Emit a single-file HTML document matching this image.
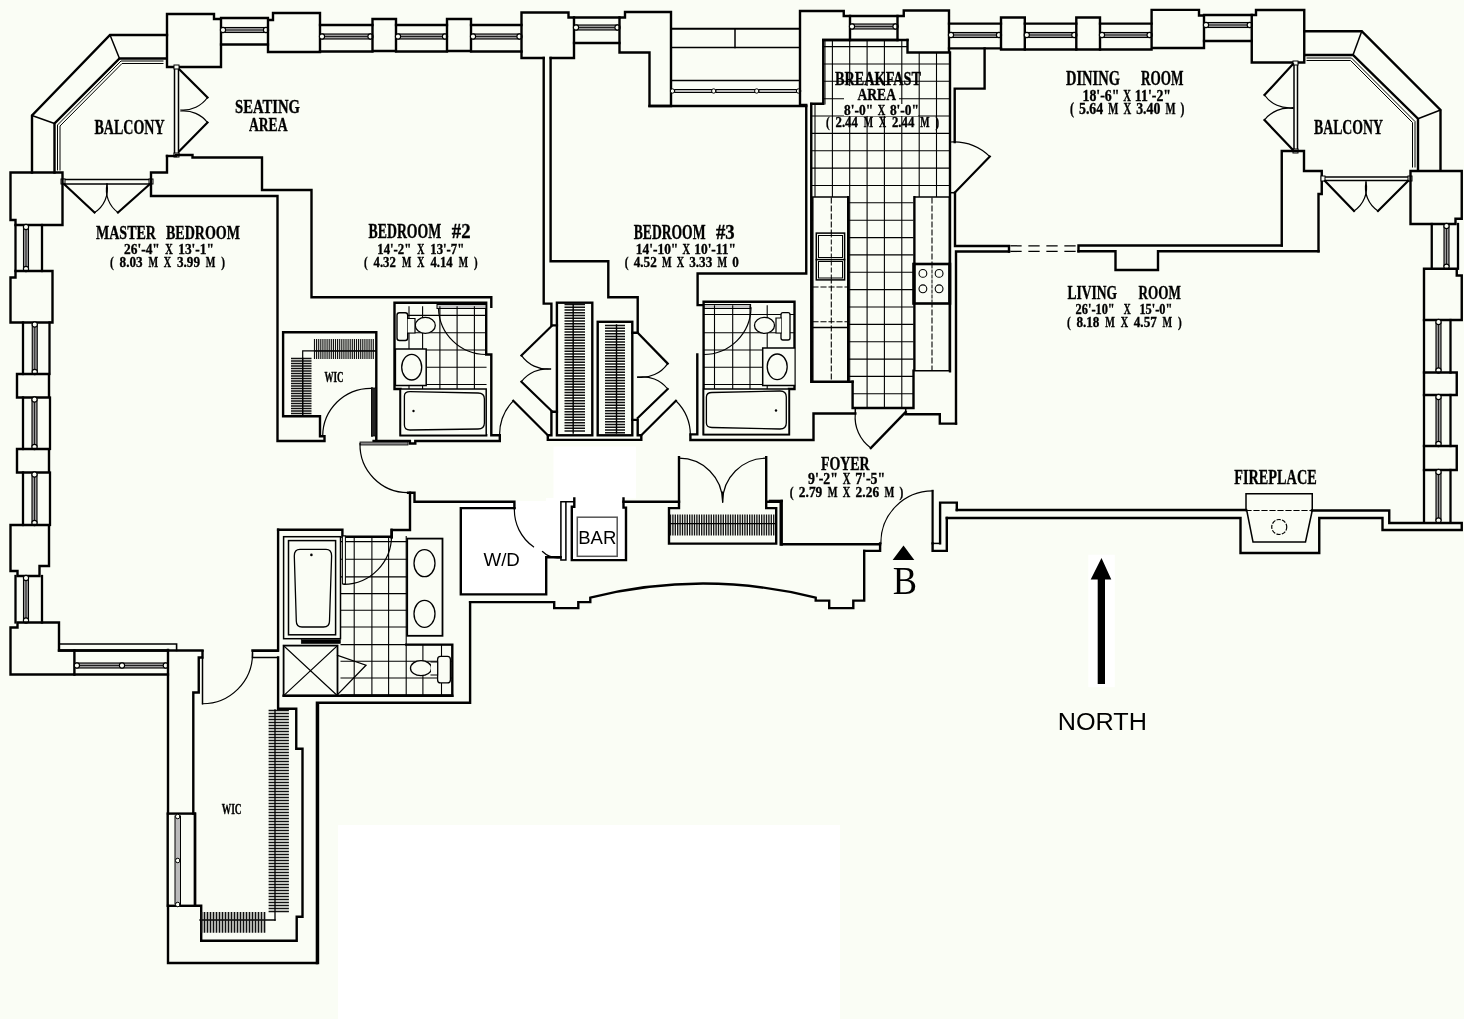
<!DOCTYPE html>
<html><head><meta charset="utf-8"><title>Floor Plan</title>
<style>html,body{margin:0;padding:0;background:#fafdf5;overflow:hidden}svg{display:block;will-change:transform}</style>
</head><body>
<svg width="1464" height="1019" viewBox="0 0 1464 1019" stroke="#000" stroke-linecap="square" stroke-linejoin="miter"><rect x="0" y="0" width="1464" height="1019" fill="#fafdf5" stroke="none"/>
<rect x="338" y="825" width="502" height="194" fill="#fff" stroke="none"/>
<rect x="553.5" y="446.5" width="82.5" height="52" fill="#fff" stroke="none"/>
<rect x="546" y="498" width="80" height="62" fill="#fff" stroke="none"/>
<rect x="461" y="501" width="99" height="56" fill="#fff" stroke="none"/>
<rect x="461" y="557" width="85" height="37" fill="#fff" stroke="none"/>
<rect x="1088.3" y="554.7" width="26.5" height="132.5" fill="#fff" stroke="none"/>
<path d="M167,14H214V19H221V67H167Z" stroke-width="2.4" fill="none" />
<line x1="221" y1="18" x2="268" y2="18" stroke-width="2.3" />
<line x1="221" y1="44.5" x2="268" y2="44.5" stroke-width="2.3" />
<rect x="223" y="27.5" width="43" height="5" stroke-width="1.1" fill="#9a9a9a" />
<line x1="223" y1="30" x2="266" y2="30" stroke-width="0.8" />
<circle cx="223" cy="30" r="2.6" stroke-width="1.1" fill="#fafdf5"/>
<circle cx="266" cy="30" r="2.6" stroke-width="1.1" fill="#fafdf5"/>
<path d="M268,20H273V13H320V52H268Z" stroke-width="2.4" fill="none" />
<line x1="320" y1="25" x2="372.5" y2="25" stroke-width="2.3" />
<line x1="320" y1="51.5" x2="372.5" y2="51.5" stroke-width="2.3" />
<rect x="322" y="34.0" width="48.5" height="5" stroke-width="1.1" fill="#9a9a9a" />
<line x1="322" y1="36.5" x2="370.5" y2="36.5" stroke-width="0.8" />
<circle cx="322" cy="36.5" r="2.6" stroke-width="1.1" fill="#fafdf5"/>
<circle cx="370.5" cy="36.5" r="2.6" stroke-width="1.1" fill="#fafdf5"/>
<path d="M372.5,19H396V51H372.5Z" stroke-width="2.4" fill="none" />
<line x1="396" y1="25" x2="447" y2="25" stroke-width="2.3" />
<line x1="396" y1="51.5" x2="447" y2="51.5" stroke-width="2.3" />
<rect x="398" y="34.0" width="47" height="5" stroke-width="1.1" fill="#9a9a9a" />
<line x1="398" y1="36.5" x2="445" y2="36.5" stroke-width="0.8" />
<circle cx="398" cy="36.5" r="2.6" stroke-width="1.1" fill="#fafdf5"/>
<circle cx="445" cy="36.5" r="2.6" stroke-width="1.1" fill="#fafdf5"/>
<path d="M447,19H471V51H447Z" stroke-width="2.4" fill="none" />
<line x1="471" y1="25" x2="521.5" y2="25" stroke-width="2.3" />
<line x1="471" y1="51.5" x2="521.5" y2="51.5" stroke-width="2.3" />
<rect x="473" y="34.0" width="46.5" height="5" stroke-width="1.1" fill="#9a9a9a" />
<line x1="473" y1="36.5" x2="519.5" y2="36.5" stroke-width="0.8" />
<circle cx="473" cy="36.5" r="2.6" stroke-width="1.1" fill="#fafdf5"/>
<circle cx="519.5" cy="36.5" r="2.6" stroke-width="1.1" fill="#fafdf5"/>
<path d="M521.5,58V12.5H568.5V17.5H574V58H550.7M543.7,58H521.5" stroke-width="2.4" fill="none" />
<line x1="574" y1="17.5" x2="619.5" y2="17.5" stroke-width="2.3" />
<line x1="574" y1="43" x2="619.5" y2="43" stroke-width="2.3" />
<rect x="576" y="25.0" width="41.5" height="5" stroke-width="1.1" fill="#9a9a9a" />
<line x1="576" y1="27.5" x2="617.5" y2="27.5" stroke-width="0.8" />
<circle cx="576" cy="27.5" r="2.6" stroke-width="1.1" fill="#fafdf5"/>
<circle cx="617.5" cy="27.5" r="2.6" stroke-width="1.1" fill="#fafdf5"/>
<path d="M619.5,17.5H625V12H671V106H649.5V52.5H619.5Z" stroke-width="2.4" fill="none" />
<line x1="671" y1="28.75" x2="800" y2="28.75" stroke-width="2" />
<line x1="671" y1="47.5" x2="800" y2="47.5" stroke-width="1.5" />
<line x1="735" y1="28.75" x2="735" y2="47.5" stroke-width="1.5" />
<line x1="671" y1="80.5" x2="800" y2="80.5" stroke-width="1.5" />
<line x1="671" y1="106" x2="800" y2="106" stroke-width="2" />
<rect x="672.5" y="89.5" width="126" height="3" stroke-width="1.0" fill="#bbb" />
<circle cx="672.5" cy="91" r="2.2" stroke-width="1" fill="#fafdf5"/>
<circle cx="713.75" cy="91" r="2.2" stroke-width="1" fill="#fafdf5"/>
<circle cx="756.75" cy="91" r="2.2" stroke-width="1" fill="#fafdf5"/>
<circle cx="798.5" cy="91" r="2.2" stroke-width="1" fill="#fafdf5"/>
<path d="M806.25,106V105H800V11H843.75V16H850V40H823.25V103.75H811.25" stroke-width="2.4" fill="none" />
<line x1="850" y1="16" x2="897.5" y2="16" stroke-width="2.3" />
<line x1="850" y1="40" x2="897.5" y2="40" stroke-width="2.3" />
<rect x="852" y="24.0" width="43.5" height="5" stroke-width="1.1" fill="#9a9a9a" />
<line x1="852" y1="26.5" x2="895.5" y2="26.5" stroke-width="0.8" />
<circle cx="852" cy="26.5" r="2.6" stroke-width="1.1" fill="#fafdf5"/>
<circle cx="895.5" cy="26.5" r="2.6" stroke-width="1.1" fill="#fafdf5"/>
<path d="M897.5,40V16H903.75V10.5H949V52.5H907.5V40" stroke-width="2.4" fill="none" />
<line x1="949" y1="23.7" x2="1001" y2="23.7" stroke-width="2.3" />
<line x1="949" y1="48.4" x2="1001" y2="48.4" stroke-width="2.3" />
<rect x="951" y="32.5" width="48" height="5" stroke-width="1.1" fill="#9a9a9a" />
<line x1="951" y1="35" x2="999" y2="35" stroke-width="0.8" />
<circle cx="951" cy="35" r="2.6" stroke-width="1.1" fill="#fafdf5"/>
<circle cx="999" cy="35" r="2.6" stroke-width="1.1" fill="#fafdf5"/>
<path d="M1001,17.5H1024.8V49.5H1001Z" stroke-width="2.4" fill="none" />
<line x1="1024.8" y1="23.7" x2="1076.3" y2="23.7" stroke-width="2.3" />
<line x1="1024.8" y1="49.5" x2="1076.3" y2="49.5" stroke-width="2.3" />
<rect x="1026.8" y="32.5" width="47.5" height="5" stroke-width="1.1" fill="#9a9a9a" />
<line x1="1026.8" y1="35" x2="1074.3" y2="35" stroke-width="0.8" />
<circle cx="1026.8" cy="35" r="2.6" stroke-width="1.1" fill="#fafdf5"/>
<circle cx="1074.3" cy="35" r="2.6" stroke-width="1.1" fill="#fafdf5"/>
<path d="M1076.3,17.5H1100V49.5H1076.3Z" stroke-width="2.4" fill="none" />
<line x1="1100" y1="23.7" x2="1151.6" y2="23.7" stroke-width="2.3" />
<line x1="1100" y1="49.5" x2="1151.6" y2="49.5" stroke-width="2.3" />
<rect x="1102" y="32.5" width="47.59999999999991" height="5" stroke-width="1.1" fill="#9a9a9a" />
<line x1="1102" y1="35" x2="1149.6" y2="35" stroke-width="0.8" />
<circle cx="1102" cy="35" r="2.6" stroke-width="1.1" fill="#fafdf5"/>
<circle cx="1149.6" cy="35" r="2.6" stroke-width="1.1" fill="#fafdf5"/>
<path d="M1151.6,9.9H1199V15.5H1204V48H1151.6Z" stroke-width="2.4" fill="none" />
<line x1="1204" y1="15" x2="1251.75" y2="15" stroke-width="2.3" />
<line x1="1204" y1="41" x2="1251.75" y2="41" stroke-width="2.3" />
<rect x="1206" y="22.5" width="43.75" height="5" stroke-width="1.1" fill="#9a9a9a" />
<line x1="1206" y1="25" x2="1249.75" y2="25" stroke-width="0.8" />
<circle cx="1206" cy="25" r="2.6" stroke-width="1.1" fill="#fafdf5"/>
<circle cx="1249.75" cy="25" r="2.6" stroke-width="1.1" fill="#fafdf5"/>
<path d="M1251.75,15H1256V10H1304.25V62.5H1251.75Z" stroke-width="2.4" fill="none" />
<path d="M1304.25,31.25H1361.75L1440.5,110V170" stroke-width="2.4" fill="none" />
<path d="M1305.5,55H1353L1418,118.75V170" stroke-width="2.4" fill="none" />
<line x1="1361.75" y1="31.25" x2="1353" y2="55" stroke-width="1.5" />
<line x1="1440.5" y1="110" x2="1418" y2="118.75" stroke-width="1.5" />
<path d="M1307,58H1351.5L1415,121.5V167" stroke-width="1.0" fill="none" />
<path d="M1307,60.5H1350.5L1412.5,122.5V167" stroke-width="1.0" fill="none" />
<line x1="1294" y1="63" x2="1294" y2="151" stroke-width="1.5" />
<line x1="1297.5" y1="63" x2="1297.5" y2="151" stroke-width="1.5" />
<rect x="1293" y="61" width="5" height="4" stroke-width="1" fill="#fafdf5"/>
<rect x="1293" y="149" width="5" height="4" stroke-width="1" fill="#fafdf5"/>
<path d="M1293,64L1264.5,95" stroke-width="2.2" fill="none" />
<path d="M1264.5,95A30,30 0 0 0 1293,107.5" stroke-width="1.2" fill="none"/>
<path d="M1293,108.5A30,30 0 0 0 1264.5,120" stroke-width="1.2" fill="none"/>
<path d="M1264.5,120L1293,150" stroke-width="2.2" fill="none" />
<path d="M1281.75,245.5V151H1304V171H1321.75V194H1318.5V251.25" stroke-width="2.4" fill="none" />
<line x1="1323" y1="177" x2="1410" y2="177" stroke-width="1.5" />
<line x1="1323" y1="180.5" x2="1410" y2="180.5" stroke-width="1.5" />
<rect x="1321" y="176" width="4" height="5" stroke-width="1" fill="#fafdf5"/>
<rect x="1408" y="176" width="4" height="5" stroke-width="1" fill="#fafdf5"/>
<path d="M1325,181L1354,211" stroke-width="2.2" fill="none" />
<path d="M1354,211A28,28 0 0 0 1366,182" stroke-width="1.2" fill="none"/>
<path d="M1366,182A28,28 0 0 0 1378,211" stroke-width="1.2" fill="none"/>
<path d="M1378,211L1408,181" stroke-width="2.2" fill="none" />
<path d="M1410.5,171H1461.75V218.75H1455.5V224H1410.5Z" stroke-width="2.4" fill="none" />
<line x1="1431.75" y1="224" x2="1431.75" y2="268.75" stroke-width="2.3" />
<line x1="1458" y1="224" x2="1458" y2="268.75" stroke-width="2.3" />
<rect x="1444.0" y="226" width="5" height="40.75" stroke-width="1.1" fill="#9a9a9a" />
<line x1="1446.5" y1="226" x2="1446.5" y2="266.75" stroke-width="0.8" />
<circle cx="1446.5" cy="226" r="2.6" stroke-width="1.1" fill="#fafdf5"/>
<circle cx="1446.5" cy="266.75" r="2.6" stroke-width="1.1" fill="#fafdf5"/>
<path d="M1424,268.75H1456.75V275.5H1461.75V320H1424Z" stroke-width="2.4" fill="none" />
<line x1="1424" y1="320" x2="1424" y2="372.5" stroke-width="2.3" />
<line x1="1450.5" y1="320" x2="1450.5" y2="372.5" stroke-width="2.3" />
<rect x="1436.0" y="322" width="5" height="48.5" stroke-width="1.1" fill="#9a9a9a" />
<line x1="1438.5" y1="322" x2="1438.5" y2="370.5" stroke-width="0.8" />
<circle cx="1438.5" cy="322" r="2.6" stroke-width="1.1" fill="#fafdf5"/>
<circle cx="1438.5" cy="370.5" r="2.6" stroke-width="1.1" fill="#fafdf5"/>
<path d="M1424,372.5H1456.75V395H1424Z" stroke-width="2.4" fill="none" />
<line x1="1424" y1="395" x2="1424" y2="446" stroke-width="2.3" />
<line x1="1450.5" y1="395" x2="1450.5" y2="446" stroke-width="2.3" />
<rect x="1436.0" y="397" width="5" height="47" stroke-width="1.1" fill="#9a9a9a" />
<line x1="1438.5" y1="397" x2="1438.5" y2="444" stroke-width="0.8" />
<circle cx="1438.5" cy="397" r="2.6" stroke-width="1.1" fill="#fafdf5"/>
<circle cx="1438.5" cy="444" r="2.6" stroke-width="1.1" fill="#fafdf5"/>
<path d="M1424,446H1456.75V470H1424Z" stroke-width="2.4" fill="none" />
<line x1="1424" y1="470" x2="1424" y2="522.5" stroke-width="2.3" />
<line x1="1450.5" y1="470" x2="1450.5" y2="522.5" stroke-width="2.3" />
<rect x="1436.0" y="472" width="5" height="48.5" stroke-width="1.1" fill="#9a9a9a" />
<line x1="1438.5" y1="472" x2="1438.5" y2="520.5" stroke-width="0.8" />
<circle cx="1438.5" cy="472" r="2.6" stroke-width="1.1" fill="#fafdf5"/>
<circle cx="1438.5" cy="520.5" r="2.6" stroke-width="1.1" fill="#fafdf5"/>
<path d="M167,35H110L32,115.5V172.5" stroke-width="2.4" fill="none" />
<path d="M165,58.5H119.5L54.5,123.5V172.5" stroke-width="2.4" fill="none" />
<line x1="110" y1="35" x2="119.5" y2="58.5" stroke-width="1.5" />
<line x1="32" y1="115.5" x2="54.5" y2="123.5" stroke-width="1.5" />
<path d="M163,61H121L57.5,125V170" stroke-width="1.0" fill="none" />
<path d="M163,63.5H122L60,126V170" stroke-width="1.0" fill="none" />
<line x1="174.5" y1="68" x2="174.5" y2="155" stroke-width="1.5" />
<line x1="178.5" y1="68" x2="178.5" y2="155" stroke-width="1.5" />
<rect x="174" y="65" width="5" height="4" stroke-width="1" fill="#fafdf5"/>
<rect x="174" y="153" width="5" height="4" stroke-width="1" fill="#fafdf5"/>
<path d="M179.5,69.5L207.5,97.5" stroke-width="2.2" fill="none" />
<path d="M207.5,97.5A30,30 0 0 1 181,110" stroke-width="1.2" fill="none"/>
<path d="M181,111A30,30 0 0 1 207.5,122.5" stroke-width="1.2" fill="none"/>
<path d="M207.5,122.5L179.5,151" stroke-width="2.2" fill="none" />
<line x1="63" y1="179.5" x2="151" y2="179.5" stroke-width="1.5" />
<line x1="63" y1="184" x2="151" y2="184" stroke-width="1.5" />
<rect x="61" y="179" width="4" height="5" stroke-width="1" fill="#fafdf5"/>
<rect x="149" y="179" width="4" height="5" stroke-width="1" fill="#fafdf5"/>
<path d="M64,184L94.5,212.5" stroke-width="2.2" fill="none" />
<path d="M94.5,212.5A28,28 0 0 0 107,184" stroke-width="1.2" fill="none"/>
<path d="M107,184A28,28 0 0 0 118,212.5" stroke-width="1.2" fill="none"/>
<path d="M118,212.5L150,184" stroke-width="2.2" fill="none" />
<path d="M167,156H176" stroke-width="2.4" fill="none" />
<path d="M167,156V172.5H151V196H277.5V441H324.5V436.2H320V416.3H283.1V332.3H376.3V441" stroke-width="2.4" fill="none" />
<path d="M176,155H192.5V157.5H262V190H311.5V297.3H491.3V306.9" stroke-width="2.4" fill="none" />
<path d="M10.5,172.5H62.5V225H15.5V220H10.5Z" stroke-width="2.4" fill="none" />
<line x1="15.5" y1="225" x2="15.5" y2="271" stroke-width="2.3" />
<line x1="42" y1="225" x2="42" y2="271" stroke-width="2.3" />
<rect x="23.5" y="227" width="5" height="42" stroke-width="1.1" fill="#9a9a9a" />
<line x1="26" y1="227" x2="26" y2="269" stroke-width="0.8" />
<circle cx="26" cy="227" r="2.6" stroke-width="1.1" fill="#fafdf5"/>
<circle cx="26" cy="269" r="2.6" stroke-width="1.1" fill="#fafdf5"/>
<path d="M15.5,271H52.5V322.5H10.5V277.5H15.5Z" stroke-width="2.4" fill="none" />
<line x1="23" y1="322.5" x2="23" y2="374" stroke-width="2.3" />
<line x1="49.5" y1="322.5" x2="49.5" y2="374" stroke-width="2.3" />
<rect x="32.25" y="324.5" width="5" height="47.5" stroke-width="1.1" fill="#9a9a9a" />
<line x1="34.75" y1="324.5" x2="34.75" y2="372" stroke-width="0.8" />
<circle cx="34.75" cy="324.5" r="2.6" stroke-width="1.1" fill="#fafdf5"/>
<circle cx="34.75" cy="372" r="2.6" stroke-width="1.1" fill="#fafdf5"/>
<path d="M17,374H49V397.5H17Z" stroke-width="2.4" fill="none" />
<line x1="23" y1="397.5" x2="23" y2="449" stroke-width="2.3" />
<line x1="50" y1="397.5" x2="50" y2="449" stroke-width="2.3" />
<rect x="32.0" y="399.5" width="5" height="47.5" stroke-width="1.1" fill="#9a9a9a" />
<line x1="34.5" y1="399.5" x2="34.5" y2="447" stroke-width="0.8" />
<circle cx="34.5" cy="399.5" r="2.6" stroke-width="1.1" fill="#fafdf5"/>
<circle cx="34.5" cy="447" r="2.6" stroke-width="1.1" fill="#fafdf5"/>
<path d="M17,449H49V472.5H17Z" stroke-width="2.4" fill="none" />
<line x1="23" y1="472.5" x2="23" y2="525" stroke-width="2.3" />
<line x1="50" y1="472.5" x2="50" y2="525" stroke-width="2.3" />
<rect x="32.0" y="474.5" width="5" height="48.5" stroke-width="1.1" fill="#9a9a9a" />
<line x1="34.5" y1="474.5" x2="34.5" y2="523" stroke-width="0.8" />
<circle cx="34.5" cy="474.5" r="2.6" stroke-width="1.1" fill="#fafdf5"/>
<circle cx="34.5" cy="523" r="2.6" stroke-width="1.1" fill="#fafdf5"/>
<path d="M10.5,525H49V566H39.5V576H17.5V571H10.5Z" stroke-width="2.4" fill="none" />
<line x1="15.5" y1="576" x2="15.5" y2="622.5" stroke-width="2.3" />
<line x1="42" y1="576" x2="42" y2="622.5" stroke-width="2.3" />
<rect x="23.5" y="578" width="5" height="42.5" stroke-width="1.1" fill="#9a9a9a" />
<line x1="26" y1="578" x2="26" y2="620.5" stroke-width="0.8" />
<circle cx="26" cy="578" r="2.6" stroke-width="1.1" fill="#fafdf5"/>
<circle cx="26" cy="620.5" r="2.6" stroke-width="1.1" fill="#fafdf5"/>
<path d="M17.5,622.5H59V650.5H74.4V674.5H10.5V627.5H17.5Z" stroke-width="2.4" fill="none" />
<path d="M302.7,414.4V350.9H376.3" stroke-width="1.2" fill="none" />
<path d="M314.5,339V359M316.6,339V359M318.7,339V359M320.8,339V359M322.9,339V359M325.0,339V359M327.1,339V359M329.2,339V359M331.3,339V359M333.4,339V359M335.5,339V359M337.6,339V359M339.7,339V359M341.8,339V359M343.9,339V359M346.0,339V359M348.1,339V359M350.2,339V359M352.3,339V359M354.4,339V359M356.5,339V359M358.6,339V359M360.7,339V359M362.8,339V359M364.9,339V359M367.0,339V359M369.1,339V359M371.2,339V359M373.3,339V359" stroke-width="1.16" stroke="#111" fill="none" stroke-linecap="butt"/>
<line x1="314.5" y1="351" x2="376" y2="351" stroke-width="1.2" />
<path d="M291,358.5H311.5M291,361.0H311.5M291,363.5H311.5M291,366.0H311.5M291,368.5H311.5M291,371.0H311.5M291,373.5H311.5M291,376.0H311.5M291,378.5H311.5M291,381.0H311.5M291,383.5H311.5M291,386.0H311.5M291,388.5H311.5M291,391.0H311.5M291,393.5H311.5M291,396.0H311.5M291,398.5H311.5M291,401.0H311.5M291,403.5H311.5M291,406.0H311.5M291,408.5H311.5M291,411.0H311.5M291,413.5H311.5" stroke-width="1.38" stroke="#111" fill="none" stroke-linecap="butt"/>
<line x1="302.7" y1="358" x2="302.7" y2="414.4" stroke-width="1.2" />
<path d="M372,388V436M376.3,388V441" stroke-width="1.5" fill="none" />
<rect x="371.5" y="388" width="4.5" height="48" stroke-width="0.8" fill="#222" />
<path d="M322.7,436.2A48,48 0 0 1 370.8,388.3" stroke-width="1.2" fill="none"/>
<path d="M373.6,441H409.9V443.5H415.3V441H499.8V435.3H491.3V354.5H486.2V302.7H394.5V389H400.5V435.3H486.2" stroke-width="2.4" fill="none" />
<rect x="437" y="304.5" width="49" height="4" stroke-width="1.0" fill="#c8c8c8" />
<path d="M409,306.9V389M422.6,306.9V389M439.9,306.9V389M457.1,306.9V389M474.4,306.9V389M400.5,315.4H486M400.5,332.7H486M400.5,350H486M400.5,367.2H486M400.5,384.5H486" stroke-width="1.1" fill="none"/>
<path d="M395.4,349H426.2V385.4H395.4Z" fill="#fafdf5" stroke-width="1.5"/>
<ellipse cx="411.7" cy="367.2" rx="10" ry="12.8" fill="#fafdf5" stroke-width="1.3"/>
<rect x="397" y="312.7" width="10.7" height="27.8" rx="2.5" fill="#fafdf5" stroke-width="1.4"/>
<ellipse cx="425.3" cy="325.4" rx="10" ry="8" fill="#fafdf5" stroke-width="1.3"/>
<path d="M407.7,318.5H415V333H407.7" fill="#fafdf5" stroke-width="1.2"/>
<rect x="400.5" y="389" width="85.7" height="46.3" fill="#fafdf5" stroke-width="1.5"/>
<path d="M404.4,396Q404.4,391.7 410,391.7L478,393Q484.4,393 484.4,399V423Q484.4,429 478,429L410,430Q404.4,430 404.4,425Z" fill="none" stroke-width="1.3"/>
<circle cx="413.5" cy="411" r="1.2" fill="#000" stroke="none"/>
<path d="M438.5,308.5A47.5,47.5 0 0 0 486.2,354.5" stroke-width="1.2" fill="none"/>
<path d="M543.7,58V303.6H551.4V325.4H556.9" stroke-width="2.4" fill="none" />
<path d="M550.6,58V261.2H608.3V297.3H637.7V332.7H632.3" stroke-width="2.4" fill="none" />
<rect x="556.9" y="302.7" width="35.4" height="132.6" stroke-width="2.4" fill="none" />
<rect x="597.7" y="321.8" width="34.6" height="113.5" stroke-width="2.4" fill="none" />
<path d="M564.5,304.5H585M564.5,307.2H585M564.5,310.0H585M564.5,312.8H585M564.5,315.5H585M564.5,318.2H585M564.5,321.0H585M564.5,323.8H585M564.5,326.5H585M564.5,329.2H585M564.5,332.0H585M564.5,334.8H585M564.5,337.5H585M564.5,340.2H585M564.5,343.0H585M564.5,345.8H585M564.5,348.5H585M564.5,351.2H585M564.5,354.0H585M564.5,356.8H585M564.5,359.5H585M564.5,362.2H585M564.5,365.0H585M564.5,367.8H585M564.5,370.5H585M564.5,373.2H585M564.5,376.0H585M564.5,378.8H585M564.5,381.5H585M564.5,384.2H585M564.5,387.0H585M564.5,389.8H585M564.5,392.5H585M564.5,395.2H585M564.5,398.0H585M564.5,400.8H585M564.5,403.5H585M564.5,406.2H585M564.5,409.0H585M564.5,411.8H585M564.5,414.5H585M564.5,417.2H585M564.5,420.0H585M564.5,422.8H585M564.5,425.5H585M564.5,428.2H585M564.5,431.0H585" stroke-width="1.51" stroke="#111" fill="none" stroke-linecap="butt"/>
<line x1="573.2" y1="305" x2="573.2" y2="433" stroke-width="1.4" />
<path d="M605,325.5H625M605,328.2H625M605,331.0H625M605,333.8H625M605,336.5H625M605,339.2H625M605,342.0H625M605,344.8H625M605,347.5H625M605,350.2H625M605,353.0H625M605,355.8H625M605,358.5H625M605,361.2H625M605,364.0H625M605,366.8H625M605,369.5H625M605,372.2H625M605,375.0H625M605,377.8H625M605,380.5H625M605,383.2H625M605,386.0H625M605,388.8H625M605,391.5H625M605,394.2H625M605,397.0H625M605,399.8H625M605,402.5H625M605,405.2H625M605,408.0H625M605,410.8H625M605,413.5H625M605,416.2H625M605,419.0H625M605,421.8H625M605,424.5H625M605,427.2H625M605,430.0H625M605,432.8H625" stroke-width="1.51" stroke="#111" fill="none" stroke-linecap="butt"/>
<line x1="616.5" y1="325" x2="616.5" y2="433" stroke-width="1.4" />
<path d="M551.4,326.3L521.4,355.4" stroke-width="2.2" fill="none" />
<path d="M521.4,355.4A32,32 0 0 0 550.5,369" stroke-width="1.2" fill="none"/>
<path d="M550.5,369A32,32 0 0 0 521.4,381.7" stroke-width="1.2" fill="none"/>
<path d="M521.4,381.7L551.4,410.8" stroke-width="2.2" fill="none" />
<path d="M556.9,411.7H551.4V435.3H547.8V439.9H641.3V435.3H637.7V419.9H632.3" stroke-width="2.4" fill="none" />
<path d="M637.7,332.7L667.7,363.6" stroke-width="2.2" fill="none" />
<path d="M667.7,363.6A32,32 0 0 1 637.7,377.2" stroke-width="1.2" fill="none"/>
<path d="M637.7,377.2A32,32 0 0 1 667.7,389" stroke-width="1.2" fill="none"/>
<path d="M667.7,389L637.7,418" stroke-width="2.2" fill="none" />
<path d="M547.8,435.3L513.3,400.8" stroke-width="2.2" fill="none" />
<path d="M513.3,400.8A48.8,48.8 0 0 0 499.6,435.3" stroke-width="1.2" fill="none"/>
<path d="M641.3,435.3L675.9,400.8" stroke-width="2.2" fill="none" />
<path d="M675.9,400.8A48.8,48.8 0 0 1 690.4,435.3" stroke-width="1.2" fill="none"/>
<path d="M649.5,106H806.25V273.5H697.6V305.1H703.6" stroke-width="2.4" fill="none" />
<path d="M697.3,354.5V434.4H690.4V440H813.5V413.5H855.3" stroke-width="2.4" fill="none" />
<rect x="703.6" y="304.5" width="47" height="4" stroke-width="1.0" fill="#c8c8c8" />
<path d="M703.6,301.8H794.5V389H789V434.4H703.6Z" stroke-width="2.4" fill="none" />
<path d="M714.5,305.8V389M732.7,305.8V389M750,305.8V389M767.2,305.8V389M703.6,314.5H794M703.6,332.7H794M703.6,350H794M703.6,367.2H794M703.6,384.5H794" stroke-width="1.1" fill="none"/>
<path d="M794.5,348H762.7V385.4H794.5" fill="#fafdf5" stroke-width="1.5"/>
<ellipse cx="777.2" cy="366.8" rx="10" ry="12.8" fill="#fafdf5" stroke-width="1.3"/>
<rect x="781" y="312.7" width="9" height="27.3" rx="2" fill="#fafdf5" stroke-width="1.3"/>
<ellipse cx="764.5" cy="325.4" rx="10" ry="8" fill="#fafdf5" stroke-width="1.3"/>
<path d="M781,318H776V333H781" fill="#fafdf5" stroke-width="1.2"/>
<rect x="703.6" y="389" width="85.4" height="45.4" fill="#fafdf5" stroke-width="1.5"/>
<path d="M706.4,397Q706.4,392.5 712,392.5L780,391Q786.3,391 786.3,397V423Q786.3,429 780,429L712,427.5Q706.4,427.5 706.4,423Z" fill="none" stroke-width="1.3"/>
<circle cx="776" cy="410.5" r="1.2" fill="#000" stroke="none"/>
<path d="M751,307.8A47.5,47.5 0 0 1 703.6,354.5" stroke-width="1.2" fill="none"/>
<clipPath id="kclip"><path d="M823.25,40H907.5V52.5H949V196.9H913.5V408H852.6V381.7H811.25V103.75H823.25Z"/></clipPath>
<path d="M815.0,30V420M832.4,30V420M849.7,30V420M867.1,30V420M884.4,30V420M901.8,30V420M919.2,30V420M936.5,30V420M800,46.6H960M800,64.0H960M800,81.3H960M800,98.7H960M800,116.0H960M800,133.4H960M800,150.8H960M800,168.1H960M800,185.5H960M800,202.8H960M800,220.2H960M800,237.6H960M800,254.9H960M800,272.3H960M800,289.6H960M800,307.0H960M800,324.4H960M800,341.7H960M800,359.1H960M800,376.4H960M800,393.8H960" stroke-width="1.1" fill="none" clip-path="url(#kclip)"/>
<line x1="825" y1="40" x2="825" y2="104" stroke-width="1.0" />
<path d="M823.25,40H907.5" stroke-width="2.4" fill="none" />
<path d="M812.8,196.9H848.1V381.7H812.8Z" fill="#fafdf5" stroke-width="1.5"/>
<line x1="831.3" y1="198" x2="831.3" y2="380" stroke-width="1.1" stroke-dasharray="5,3"/>
<line x1="813" y1="287" x2="848" y2="287" stroke-width="1.1" stroke-dasharray="5,3"/>
<line x1="813" y1="321.8" x2="848" y2="321.8" stroke-width="1.1" stroke-dasharray="5,3"/>
<line x1="813" y1="327.6" x2="848" y2="327.6" stroke-width="1.5" />
<rect x="816.3" y="233.1" width="28.3" height="46.8" fill="#fafdf5" stroke-width="1.5"/>
<line x1="816.3" y1="259.6" x2="844.6" y2="259.6" stroke-width="1.5" />
<rect x="818.5" y="235.5" width="24" height="22" stroke-width="1.0" fill="none" />
<rect x="818.5" y="261.5" width="24" height="16.5" stroke-width="1.0" fill="none" />
<line x1="831.3" y1="233" x2="831.3" y2="280" stroke-width="1.0" stroke-dasharray="4,3"/>
<path d="M848.1,197V382" stroke-width="2.2" fill="none" stroke-dasharray="1.5,1.5"/>
<path d="M914.4,196.9H949.4V370.8H914.4Z" fill="#fafdf5" stroke-width="1.5"/>
<line x1="932" y1="198" x2="932" y2="370" stroke-width="1.1" stroke-dasharray="5,3"/>
<rect x="913.5" y="264" width="36.5" height="39.5" fill="#fafdf5" stroke-width="2.6"/>
<circle cx="922.9" cy="273.4" r="3.9" fill="#fafdf5" stroke-width="1.1"/>
<circle cx="939.1" cy="273.4" r="3.9" fill="#fafdf5" stroke-width="1.1"/>
<circle cx="922.9" cy="288.8" r="3.9" fill="#fafdf5" stroke-width="1.1"/>
<circle cx="939.1" cy="288.8" r="3.9" fill="#fafdf5" stroke-width="1.1"/>
<line x1="932" y1="265" x2="932" y2="302" stroke-width="1.0" stroke-dasharray="3,2"/>
<path d="M914.4,264V302M949.4,264V302" stroke-width="2.4" fill="none" stroke-dasharray="1.5,1.5"/>
<path d="M914.4,197V370" stroke-width="2.2" fill="none" stroke-dasharray="1.5,1.5"/>
<path d="M811.25,104V381.7H852.6" stroke-width="2.4" fill="none" />
<path d="M852.6,381.7V408H913.5V370.8" stroke-width="2.4" fill="none" />
<path d="M855.3,408V413.5M905.7,408V414.2" stroke-width="1.5" fill="none" />
<path d="M855.3,413.5A38,38 0 0 0 870.8,448" stroke-width="1.2" fill="none"/>
<path d="M870.8,448L905.7,412" stroke-width="2.4" fill="none" />
<path d="M905.7,414.2H939.8V423.6H956" stroke-width="2.4" fill="none" />
<path d="M950,52.5V371.4" stroke-width="2.4" fill="none" />
<path d="M955,192.7V246H1009V251.5" stroke-width="2.4" fill="none" />
<path d="M956,423.6V251.5H1009" stroke-width="2.4" fill="none" />
<path d="M950,192.7H955" stroke-width="1.5" fill="none" />
<path d="M954.7,142V88.6H984.6V48.4" stroke-width="2.4" fill="none" />
<path d="M950.6,142A52,52 0 0 1 989.8,156.6" stroke-width="1.2" fill="none"/>
<path d="M989.8,156.6L954.7,192.7" stroke-width="2.2" fill="none" />
<path d="M1078.5,251.25V245.5H1281.75" stroke-width="2.4" fill="none" />
<path d="M1078.5,251.25H1115.5V270H1158V251.25H1318.5" stroke-width="2.4" fill="none" />
<line x1="1011" y1="245.8" x2="1078" y2="245.8" stroke-width="1.3" stroke-dasharray="10,8"/>
<line x1="1011" y1="251.4" x2="1078" y2="251.4" stroke-width="1.3" stroke-dasharray="10,8"/>
<path d="M956.8,510H1246M1312,510.5H1389.25V523H1461.75V530H1382.5V518H1319.25V553H1240.5V518H946.8" stroke-width="2.4" fill="none" />
<path d="M956.8,510V502.6H940.1V543.4" stroke-width="2.4" fill="none" />
<path d="M946.8,518V550.9H932.6V543.4" stroke-width="2.4" fill="none" />
<line x1="1246" y1="510.5" x2="1312" y2="510.5" stroke-width="1.2" stroke-dasharray="5,3"/>
<path d="M1246,510.5V493.75H1312.25V510.5" stroke-width="1.5" fill="none" />
<path d="M1246.75,510.5L1253,542H1305.5L1312.25,510.5" stroke-width="1.5" fill="none" />
<circle cx="1279.25" cy="527" r="7.5" fill="none" stroke-width="1.2" stroke-dasharray="3,2.5"/>
<path d="M932.6,490.9V543.4" stroke-width="2.2" fill="none" />
<path d="M932.6,543.4H940.1" stroke-width="1.5" fill="none" />
<path d="M880.9,543.4A51.7,51.7 0 0 1 932.6,490.9" stroke-width="1.2" fill="none"/>
<path d="M880.1,543.4V550.9H864.2" stroke-width="2.4" fill="none" />
<path d="M781.7,500.9V544.3H880.1" stroke-width="2.4" fill="none" />
<path d="M770,500.9H781.7" stroke-width="2.4" fill="none" />
<path d="M892.6,560.1H914.3L903.5,545.4Z" fill="#000" stroke="none"/>
<path d="M1101.5,558L1111.3,579.6H1105V683.9H1097.7V579.6H1090.7Z" fill="#000" stroke="none"/>
<rect x="360" y="442" width="48" height="3" stroke-width="0.8" fill="#888" />
<path d="M360,443.6A48,48 0 0 0 408.1,492.7" stroke-width="1.2" fill="none"/>
<path d="M408.1,492.7H414.5V501.8H514.4V508.1" stroke-width="2.4" fill="none" />
<path d="M410,492.7V530H391.8V537.2" stroke-width="2.4" fill="none" />
<path d="M514.4,508.1H460.8V594.4H546.2V557.2H560.7" stroke-width="2.4" fill="none" />
<path d="M514.4,508.1A45,45 0 0 0 533.5,546.8" stroke-width="1.2" fill="none"/>
<path d="M542.5,551.5A22,22 0 0 0 560.7,557.6" stroke-width="1.2" fill="none"/>
<path d="M560.9,501.7V560.1H565.9V501.7M560.9,501.7H574.3" stroke-width="1.5" fill="none" />
<path d="M574.3,498.4V506.7H571.8V560.1H626V507.6H623.5V498.4" stroke-width="2.4" fill="none" />
<rect x="577.3" y="517.2" width="39.9" height="39.1" stroke-width="1.5" fill="#fff" stroke="#555"/>
<path d="M623.5,501.8H679" stroke-width="2.4" fill="none" />
<path d="M679,457.3V508.1H669V543.6H776.2V508.1H766.2V457.3" stroke-width="2.4" fill="none" />
<path d="M679,458.2A43.6,43.6 0 0 1 722.6,501.8" stroke-width="1.2" fill="none"/>
<path d="M766.2,458.2A43.6,43.6 0 0 0 722.6,501.8" stroke-width="1.2" fill="none"/>
<line x1="722.6" y1="492" x2="722.6" y2="501.8" stroke-width="1.2" />
<path d="M670.5,514.5V535.4M672.9,514.5V535.4M675.3,514.5V535.4M677.7,514.5V535.4M680.1,514.5V535.4M682.5,514.5V535.4M684.9,514.5V535.4M687.3,514.5V535.4M689.7,514.5V535.4M692.1,514.5V535.4M694.5,514.5V535.4M696.9,514.5V535.4M699.3,514.5V535.4M701.7,514.5V535.4M704.1,514.5V535.4M706.5,514.5V535.4M708.9,514.5V535.4M711.3,514.5V535.4M713.7,514.5V535.4M716.1,514.5V535.4M718.5,514.5V535.4M720.9,514.5V535.4M723.3,514.5V535.4M725.7,514.5V535.4M728.1,514.5V535.4M730.5,514.5V535.4M732.9,514.5V535.4M735.3,514.5V535.4M737.7,514.5V535.4M740.1,514.5V535.4M742.5,514.5V535.4M744.9,514.5V535.4M747.3,514.5V535.4M749.7,514.5V535.4M752.1,514.5V535.4M754.5,514.5V535.4M756.9,514.5V535.4M759.3,514.5V535.4M761.7,514.5V535.4M764.1,514.5V535.4M766.5,514.5V535.4M768.9,514.5V535.4M771.3,514.5V535.4M773.7,514.5V535.4" stroke-width="1.32" stroke="#111" fill="none" stroke-linecap="butt"/>
<line x1="670.8" y1="523.6" x2="774.4" y2="523.6" stroke-width="1.2" />
<path d="M766.2,501.8H780.7V544.5H781.7" stroke-width="2.4" fill="none" />
<path d="M470.1,602.1H554.2V608.1H578.3V602.1H590.3V597.6Q703,569.5 815.7,597.6V600.6H829.2V608.1H853.3V600.6H864.2V550.9" stroke-width="2.4" fill="none" />
<path d="M278.1,529.8H342.4V536.7H391.5" stroke-width="2.4" fill="none" />
<path d="M391.5,529.8V537.2" stroke-width="2.4" fill="none" />
<rect x="283.6" y="536.7" width="56.9" height="102" stroke-width="1.5" fill="none" />
<rect x="288.5" y="540.6" width="47.1" height="94.2" stroke-width="1.5" fill="none" />
<path d="M300,549.4H326Q331.6,549.4 331.6,556L329.5,621Q329.5,627 323.5,627H302Q296.3,627 296.3,621L294.3,556Q294.3,549.4 300,549.4Z" fill="none" stroke-width="1.3"/>
<circle cx="311.4" cy="554.9" r="1.3" fill="#000" stroke="none"/>
<rect x="301.2" y="639.7" width="39.3" height="3.9" stroke-width="0.5" fill="#000" />
<rect x="283.6" y="645.6" width="53.9" height="50.1" stroke-width="1.8" fill="none" />
<path d="M283.6,645.6L337.5,695.7M337.5,645.6L283.6,695.7" stroke-width="1.2" fill="none" />
<path d="M337.5,655.4L366,665.2L337.5,694.7" stroke-width="1.3" fill="none" />
<clipPath id="mbclip"><path d="M340.5,536H407.2V644.6H452.3V695.7H340.5Z"/></clipPath>
<g clip-path="url(#mbclip)">
<path d="M354.2,536V695.7M371.9,536V695.7M388.6,536V695.7M406.2,536V695.7M422.9,536V695.7M441.5,536V695.7M340.5,541.6H452.3M340.5,559.3H452.3M340.5,576.9H452.3M340.5,593.6H452.3M340.5,610.3H452.3M340.5,627H452.3M340.5,644.6H452.3M340.5,661.3H452.3M340.5,678H452.3M340.5,694.7H452.3" stroke-width="1.1" fill="none"/>
</g>
<rect x="342.4" y="536" width="3" height="48" fill="#fafdf5" stroke-width="1"/>
<path d="M343.9,584.4A48.5,48.5 0 0 0 391.5,535.7" stroke-width="1.2" fill="none"/>
<rect x="407.2" y="538.6" width="35.3" height="97.2" fill="#fafdf5" stroke-width="1.8"/>
<ellipse cx="424.5" cy="563.2" rx="10.5" ry="13.5" fill="#fafdf5" stroke-width="1.3"/>
<ellipse cx="424.5" cy="613.8" rx="10.5" ry="13.5" fill="#fafdf5" stroke-width="1.3"/>
<path d="M406.2,644.6H452.3V695.7" stroke-width="2.4" fill="none" />
<rect x="437.6" y="656.4" width="12.8" height="26.5" rx="3" fill="#fafdf5" stroke-width="1.3"/>
<ellipse cx="421" cy="668.2" rx="10.5" ry="7.5" fill="#fafdf5" stroke-width="1.3"/>
<path d="M431,662H437.6V675H431" fill="#fafdf5" stroke-width="1.1"/>
<path d="M283.6,695.7H452.3" stroke-width="2.4" fill="none" />
<path d="M316.9,963V702.8H470.1V602.1" stroke-width="2.4" fill="none" />
<path d="M278.1,529.8V650.5H252.5" stroke-width="2.4" fill="none" />
<path d="M202.5,650.5H59" stroke-width="2.4" fill="none" />
<path d="M278.1,657.5V708.75H296.25V748.75H302.5V916.7H296.7V940.7H201.2V905.8H195V813.6H193.3V692.5H198.75V657.5H202.5V651.25" stroke-width="2.4" fill="none" />
<path d="M202.5,657.5V703.75" stroke-width="1.5" fill="none" />
<path d="M202.5,703.75A50,50 0 0 0 252.5,653.75" stroke-width="1.2" fill="none"/>
<path d="M252.5,651.25V657.5H278.1M252.5,651.25H278.1" stroke-width="1.5" fill="none" />
<path d="M59,644H176.6V650.5" stroke-width="1.6" fill="none" />
<line x1="74.4" y1="650.5" x2="168" y2="650.5" stroke-width="2.3" />
<line x1="74.4" y1="674.5" x2="168" y2="674.5" stroke-width="2.3" />
<rect x="76.4" y="663.0" width="89.6" height="5" stroke-width="1.1" fill="#9a9a9a" />
<line x1="76.4" y1="665.5" x2="166" y2="665.5" stroke-width="0.8" />
<circle cx="76.9" cy="665.5" r="2.6" stroke-width="1.1" fill="#fafdf5"/>
<circle cx="122" cy="665.5" r="2.6" stroke-width="1.1" fill="#fafdf5"/>
<circle cx="165.8" cy="665.5" r="2.6" stroke-width="1.1" fill="#fafdf5"/>
<path d="M168,650V813.6M168,905.8V963H318V703.5" stroke-width="2.4" fill="none" />
<rect x="167.7" y="813.6" width="27.3" height="92.2" stroke-width="2.4" fill="none" />
<rect x="175" y="816" width="5.5" height="88" stroke-width="1.0" fill="#bbb" />
<circle cx="177.8" cy="816.5" r="2.3" stroke-width="1" fill="#fafdf5"/>
<circle cx="177.8" cy="860.5" r="2.3" stroke-width="1" fill="#fafdf5"/>
<circle cx="177.8" cy="904.5" r="2.3" stroke-width="1" fill="#fafdf5"/>
<path d="M268.6,710.5H288.9M268.6,713.5H288.9M268.6,716.5H288.9M268.6,719.5H288.9M268.6,722.5H288.9M268.6,725.5H288.9M268.6,728.5H288.9M268.6,731.5H288.9M268.6,734.5H288.9M268.6,737.5H288.9M268.6,740.5H288.9M268.6,743.5H288.9M268.6,746.5H288.9M268.6,749.5H288.9M268.6,752.5H288.9M268.6,755.5H288.9M268.6,758.5H288.9M268.6,761.5H288.9M268.6,764.5H288.9M268.6,767.5H288.9M268.6,770.5H288.9M268.6,773.5H288.9M268.6,776.5H288.9M268.6,779.5H288.9M268.6,782.5H288.9M268.6,785.5H288.9M268.6,788.5H288.9M268.6,791.5H288.9M268.6,794.5H288.9M268.6,797.5H288.9M268.6,800.5H288.9M268.6,803.5H288.9M268.6,806.5H288.9M268.6,809.5H288.9M268.6,812.5H288.9M268.6,815.5H288.9M268.6,818.5H288.9M268.6,821.5H288.9M268.6,824.5H288.9M268.6,827.5H288.9M268.6,830.5H288.9M268.6,833.5H288.9M268.6,836.5H288.9M268.6,839.5H288.9M268.6,842.5H288.9M268.6,845.5H288.9M268.6,848.5H288.9M268.6,851.5H288.9M268.6,854.5H288.9M268.6,857.5H288.9M268.6,860.5H288.9M268.6,863.5H288.9M268.6,866.5H288.9M268.6,869.5H288.9M268.6,872.5H288.9M268.6,875.5H288.9M268.6,878.5H288.9M268.6,881.5H288.9M268.6,884.5H288.9M268.6,887.5H288.9M268.6,890.5H288.9M268.6,893.5H288.9M268.6,896.5H288.9M268.6,899.5H288.9M268.6,902.5H288.9M268.6,905.5H288.9M268.6,908.5H288.9M268.6,911.5H288.9" stroke-width="1.65" stroke="#111" fill="none" stroke-linecap="butt"/>
<line x1="275" y1="710" x2="275" y2="920" stroke-width="1.3" />
<line x1="200" y1="920" x2="275" y2="920" stroke-width="1.3" />
<path d="M201.5,912V932.8M204.5,912V932.8M207.5,912V932.8M210.5,912V932.8M213.5,912V932.8M216.5,912V932.8M219.5,912V932.8M222.5,912V932.8M225.5,912V932.8M228.5,912V932.8M231.5,912V932.8M234.5,912V932.8M237.5,912V932.8M240.5,912V932.8M243.5,912V932.8M246.5,912V932.8M249.5,912V932.8M252.5,912V932.8M255.5,912V932.8M258.5,912V932.8M261.5,912V932.8M264.5,912V932.8" stroke-width="1.65" stroke="#111" fill="none" stroke-linecap="butt"/>
<text x="94.5" y="133.75" font-family="&quot;Liberation Serif&quot;, serif" font-size="20.3" font-weight="bold" textLength="70.0" lengthAdjust="spacingAndGlyphs" stroke="#000" stroke-width="0.35" fill="#000">BALCONY</text>
<text x="235" y="112.5" font-family="&quot;Liberation Serif&quot;, serif" font-size="19.1" font-weight="bold" textLength="65" lengthAdjust="spacingAndGlyphs" stroke="#000" stroke-width="0.35" fill="#000">SEATING</text>
<text x="249" y="131" font-family="&quot;Liberation Serif&quot;, serif" font-size="19.1" font-weight="bold" textLength="38.5" lengthAdjust="spacingAndGlyphs" stroke="#000" stroke-width="0.35" fill="#000">AREA</text>
<text x="96" y="239" font-family="&quot;Liberation Serif&quot;, serif" font-size="19.8" font-weight="bold" textLength="60" lengthAdjust="spacingAndGlyphs" stroke="#000" stroke-width="0.35" fill="#000">MASTER</text>
<text x="166" y="239" font-family="&quot;Liberation Serif&quot;, serif" font-size="19.8" font-weight="bold" textLength="74" lengthAdjust="spacingAndGlyphs" stroke="#000" stroke-width="0.35" fill="#000">BEDROOM</text>
<text x="124" y="254" font-family="&quot;Liberation Serif&quot;, serif" font-size="15.3" font-weight="bold" textLength="35.82" lengthAdjust="spacingAndGlyphs" stroke="#000" stroke-width="0.35" fill="#000">26'-4&quot;</text>
<text x="165.25" y="254" font-family="&quot;Liberation Serif&quot;, serif" font-size="15.3" font-weight="bold" textLength="7.5" lengthAdjust="spacingAndGlyphs" stroke="#000" stroke-width="0.35" fill="#000">X</text>
<text x="178.18" y="254" font-family="&quot;Liberation Serif&quot;, serif" font-size="15.3" font-weight="bold" textLength="35.82" lengthAdjust="spacingAndGlyphs" stroke="#000" stroke-width="0.35" fill="#000">13'-1&quot;</text>
<text x="110" y="266.8" font-family="&quot;Liberation Serif&quot;, serif" font-size="15.0" font-weight="bold" textLength="3.74" lengthAdjust="spacingAndGlyphs" stroke="#000" stroke-width="0.35" fill="#000">(</text>
<text x="119.55" y="266.8" font-family="&quot;Liberation Serif&quot;, serif" font-size="15.0" font-weight="bold" textLength="23.04" lengthAdjust="spacingAndGlyphs" stroke="#000" stroke-width="0.35" fill="#000">8.03</text>
<text x="148.41" y="266.8" font-family="&quot;Liberation Serif&quot;, serif" font-size="15.0" font-weight="bold" textLength="9.6" lengthAdjust="spacingAndGlyphs" stroke="#000" stroke-width="0.35" fill="#000">M</text>
<text x="163.83" y="266.8" font-family="&quot;Liberation Serif&quot;, serif" font-size="15.0" font-weight="bold" textLength="7.35" lengthAdjust="spacingAndGlyphs" stroke="#000" stroke-width="0.35" fill="#000">X</text>
<text x="176.99" y="266.8" font-family="&quot;Liberation Serif&quot;, serif" font-size="15.0" font-weight="bold" textLength="23.04" lengthAdjust="spacingAndGlyphs" stroke="#000" stroke-width="0.35" fill="#000">3.99</text>
<text x="205.85" y="266.8" font-family="&quot;Liberation Serif&quot;, serif" font-size="15.0" font-weight="bold" textLength="9.6" lengthAdjust="spacingAndGlyphs" stroke="#000" stroke-width="0.35" fill="#000">M</text>
<text x="221.26" y="266.8" font-family="&quot;Liberation Serif&quot;, serif" font-size="15.0" font-weight="bold" textLength="3.74" lengthAdjust="spacingAndGlyphs" stroke="#000" stroke-width="0.35" fill="#000">)</text>
<text x="324.5" y="381.7" font-family="&quot;Liberation Serif&quot;, serif" font-size="13.7" font-weight="bold" textLength="19.1" lengthAdjust="spacingAndGlyphs" stroke="#000" stroke-width="0.35" fill="#000">WIC</text>
<text x="221.7" y="814" font-family="&quot;Liberation Serif&quot;, serif" font-size="15.3" font-weight="bold" textLength="20.0" lengthAdjust="spacingAndGlyphs" stroke="#000" stroke-width="0.35" fill="#000">WIC</text>
<text x="368.6" y="238.4" font-family="&quot;Liberation Serif&quot;, serif" font-size="20.5" font-weight="bold" textLength="72.7" lengthAdjust="spacingAndGlyphs" stroke="#000" stroke-width="0.35" fill="#000">BEDROOM</text>
<text x="451.8" y="238.4" font-family="&quot;Liberation Serif&quot;, serif" font-size="20.5" font-weight="bold" textLength="18.7" lengthAdjust="spacingAndGlyphs" stroke="#000" stroke-width="0.35" fill="#000">#2</text>
<text x="377.3" y="253.7" font-family="&quot;Liberation Serif&quot;, serif" font-size="14.5" font-weight="bold" textLength="34.03" lengthAdjust="spacingAndGlyphs" stroke="#000" stroke-width="0.35" fill="#000">14'-2&quot;</text>
<text x="417.24" y="253.7" font-family="&quot;Liberation Serif&quot;, serif" font-size="14.5" font-weight="bold" textLength="7.12" lengthAdjust="spacingAndGlyphs" stroke="#000" stroke-width="0.35" fill="#000">X</text>
<text x="430.27" y="253.7" font-family="&quot;Liberation Serif&quot;, serif" font-size="14.5" font-weight="bold" textLength="34.03" lengthAdjust="spacingAndGlyphs" stroke="#000" stroke-width="0.35" fill="#000">13'-7&quot;</text>
<text x="363.9" y="266.6" font-family="&quot;Liberation Serif&quot;, serif" font-size="14.5" font-weight="bold" textLength="3.62" lengthAdjust="spacingAndGlyphs" stroke="#000" stroke-width="0.35" fill="#000">(</text>
<text x="373.55" y="266.6" font-family="&quot;Liberation Serif&quot;, serif" font-size="14.5" font-weight="bold" textLength="22.34" lengthAdjust="spacingAndGlyphs" stroke="#000" stroke-width="0.35" fill="#000">4.32</text>
<text x="401.91" y="266.6" font-family="&quot;Liberation Serif&quot;, serif" font-size="14.5" font-weight="bold" textLength="9.31" lengthAdjust="spacingAndGlyphs" stroke="#000" stroke-width="0.35" fill="#000">M</text>
<text x="417.24" y="266.6" font-family="&quot;Liberation Serif&quot;, serif" font-size="14.5" font-weight="bold" textLength="7.12" lengthAdjust="spacingAndGlyphs" stroke="#000" stroke-width="0.35" fill="#000">X</text>
<text x="430.39" y="266.6" font-family="&quot;Liberation Serif&quot;, serif" font-size="14.5" font-weight="bold" textLength="22.34" lengthAdjust="spacingAndGlyphs" stroke="#000" stroke-width="0.35" fill="#000">4.14</text>
<text x="458.74" y="266.6" font-family="&quot;Liberation Serif&quot;, serif" font-size="14.5" font-weight="bold" textLength="9.31" lengthAdjust="spacingAndGlyphs" stroke="#000" stroke-width="0.35" fill="#000">M</text>
<text x="474.08" y="266.6" font-family="&quot;Liberation Serif&quot;, serif" font-size="14.5" font-weight="bold" textLength="3.62" lengthAdjust="spacingAndGlyphs" stroke="#000" stroke-width="0.35" fill="#000">)</text>
<text x="633.8" y="239.2" font-family="&quot;Liberation Serif&quot;, serif" font-size="20.8" font-weight="bold" textLength="71.7" lengthAdjust="spacingAndGlyphs" stroke="#000" stroke-width="0.35" fill="#000">BEDROOM</text>
<text x="716" y="239.2" font-family="&quot;Liberation Serif&quot;, serif" font-size="20.8" font-weight="bold" textLength="18.7" lengthAdjust="spacingAndGlyphs" stroke="#000" stroke-width="0.35" fill="#000">#3</text>
<text x="635.8" y="254.3" font-family="&quot;Liberation Serif&quot;, serif" font-size="15.3" font-weight="bold" textLength="42.53" lengthAdjust="spacingAndGlyphs" stroke="#000" stroke-width="0.35" fill="#000">14'-10&quot;</text>
<text x="682.52" y="254.3" font-family="&quot;Liberation Serif&quot;, serif" font-size="15.3" font-weight="bold" textLength="7.5" lengthAdjust="spacingAndGlyphs" stroke="#000" stroke-width="0.35" fill="#000">X</text>
<text x="694.21" y="254.3" font-family="&quot;Liberation Serif&quot;, serif" font-size="15.3" font-weight="bold" textLength="41.79" lengthAdjust="spacingAndGlyphs" stroke="#000" stroke-width="0.35" fill="#000">10'-11&quot;</text>
<text x="624.8" y="266.8" font-family="&quot;Liberation Serif&quot;, serif" font-size="15.0" font-weight="bold" textLength="3.74" lengthAdjust="spacingAndGlyphs" stroke="#000" stroke-width="0.35" fill="#000">(</text>
<text x="633.71" y="266.8" font-family="&quot;Liberation Serif&quot;, serif" font-size="15.0" font-weight="bold" textLength="23.04" lengthAdjust="spacingAndGlyphs" stroke="#000" stroke-width="0.35" fill="#000">4.52</text>
<text x="661.93" y="266.8" font-family="&quot;Liberation Serif&quot;, serif" font-size="15.0" font-weight="bold" textLength="9.6" lengthAdjust="spacingAndGlyphs" stroke="#000" stroke-width="0.35" fill="#000">M</text>
<text x="676.7" y="266.8" font-family="&quot;Liberation Serif&quot;, serif" font-size="15.0" font-weight="bold" textLength="7.35" lengthAdjust="spacingAndGlyphs" stroke="#000" stroke-width="0.35" fill="#000">X</text>
<text x="689.22" y="266.8" font-family="&quot;Liberation Serif&quot;, serif" font-size="15.0" font-weight="bold" textLength="23.04" lengthAdjust="spacingAndGlyphs" stroke="#000" stroke-width="0.35" fill="#000">3.33</text>
<text x="717.44" y="266.8" font-family="&quot;Liberation Serif&quot;, serif" font-size="15.0" font-weight="bold" textLength="9.6" lengthAdjust="spacingAndGlyphs" stroke="#000" stroke-width="0.35" fill="#000">M</text>
<text x="732.22" y="266.8" font-family="&quot;Liberation Serif&quot;, serif" font-size="15.0" font-weight="bold" textLength="6.58" lengthAdjust="spacingAndGlyphs" stroke="#000" stroke-width="0.35" fill="#000">0</text>
<path d="M844,86H899V104H918V116H844Z" fill="#fafdf5" stroke="none"/>
<text x="835" y="85" font-family="&quot;Liberation Serif&quot;, serif" font-size="19.1" font-weight="bold" textLength="86" lengthAdjust="spacingAndGlyphs" stroke="#000" stroke-width="0.35" fill="#000">BREAKFAST</text>
<text x="857.5" y="100" font-family="&quot;Liberation Serif&quot;, serif" font-size="16.8" font-weight="bold" textLength="38.5" lengthAdjust="spacingAndGlyphs" stroke="#000" stroke-width="0.35" fill="#000">AREA</text>
<text x="844" y="115" font-family="&quot;Liberation Serif&quot;, serif" font-size="15.3" font-weight="bold" textLength="29.1" lengthAdjust="spacingAndGlyphs" stroke="#000" stroke-width="0.35" fill="#000">8'-0&quot;</text>
<text x="877.75" y="115" font-family="&quot;Liberation Serif&quot;, serif" font-size="15.3" font-weight="bold" textLength="7.5" lengthAdjust="spacingAndGlyphs" stroke="#000" stroke-width="0.35" fill="#000">X</text>
<text x="889.9" y="115" font-family="&quot;Liberation Serif&quot;, serif" font-size="15.3" font-weight="bold" textLength="29.1" lengthAdjust="spacingAndGlyphs" stroke="#000" stroke-width="0.35" fill="#000">8'-0&quot;</text>
<text x="826" y="127" font-family="&quot;Liberation Serif&quot;, serif" font-size="14.5" font-weight="bold" textLength="3.62" lengthAdjust="spacingAndGlyphs" stroke="#000" stroke-width="0.35" fill="#000">(</text>
<text x="835.51" y="127" font-family="&quot;Liberation Serif&quot;, serif" font-size="14.5" font-weight="bold" textLength="22.34" lengthAdjust="spacingAndGlyphs" stroke="#000" stroke-width="0.35" fill="#000">2.44</text>
<text x="863.74" y="127" font-family="&quot;Liberation Serif&quot;, serif" font-size="14.5" font-weight="bold" textLength="9.31" lengthAdjust="spacingAndGlyphs" stroke="#000" stroke-width="0.35" fill="#000">M</text>
<text x="878.94" y="127" font-family="&quot;Liberation Serif&quot;, serif" font-size="14.5" font-weight="bold" textLength="7.12" lengthAdjust="spacingAndGlyphs" stroke="#000" stroke-width="0.35" fill="#000">X</text>
<text x="891.95" y="127" font-family="&quot;Liberation Serif&quot;, serif" font-size="14.5" font-weight="bold" textLength="22.34" lengthAdjust="spacingAndGlyphs" stroke="#000" stroke-width="0.35" fill="#000">2.44</text>
<text x="920.18" y="127" font-family="&quot;Liberation Serif&quot;, serif" font-size="14.5" font-weight="bold" textLength="9.31" lengthAdjust="spacingAndGlyphs" stroke="#000" stroke-width="0.35" fill="#000">M</text>
<text x="935.38" y="127" font-family="&quot;Liberation Serif&quot;, serif" font-size="14.5" font-weight="bold" textLength="3.62" lengthAdjust="spacingAndGlyphs" stroke="#000" stroke-width="0.35" fill="#000">)</text>
<text x="1066" y="84.5" font-family="&quot;Liberation Serif&quot;, serif" font-size="20.6" font-weight="bold" textLength="54" lengthAdjust="spacingAndGlyphs" stroke="#000" stroke-width="0.35" fill="#000">DINING</text>
<text x="1141" y="84.5" font-family="&quot;Liberation Serif&quot;, serif" font-size="20.6" font-weight="bold" textLength="42.5" lengthAdjust="spacingAndGlyphs" stroke="#000" stroke-width="0.35" fill="#000">ROOM</text>
<text x="1082.5" y="101" font-family="&quot;Liberation Serif&quot;, serif" font-size="15.7" font-weight="bold" textLength="36.89" lengthAdjust="spacingAndGlyphs" stroke="#000" stroke-width="0.35" fill="#000">18'-6&quot;</text>
<text x="1123.27" y="101" font-family="&quot;Liberation Serif&quot;, serif" font-size="15.7" font-weight="bold" textLength="7.72" lengthAdjust="spacingAndGlyphs" stroke="#000" stroke-width="0.35" fill="#000">X</text>
<text x="1134.87" y="101" font-family="&quot;Liberation Serif&quot;, serif" font-size="15.7" font-weight="bold" textLength="36.13" lengthAdjust="spacingAndGlyphs" stroke="#000" stroke-width="0.35" fill="#000">11'-2&quot;</text>
<text x="1070" y="114" font-family="&quot;Liberation Serif&quot;, serif" font-size="15.7" font-weight="bold" textLength="3.93" lengthAdjust="spacingAndGlyphs" stroke="#000" stroke-width="0.35" fill="#000">(</text>
<text x="1078.98" y="114" font-family="&quot;Liberation Serif&quot;, serif" font-size="15.7" font-weight="bold" textLength="24.22" lengthAdjust="spacingAndGlyphs" stroke="#000" stroke-width="0.35" fill="#000">5.64</text>
<text x="1108.24" y="114" font-family="&quot;Liberation Serif&quot;, serif" font-size="15.7" font-weight="bold" textLength="10.09" lengthAdjust="spacingAndGlyphs" stroke="#000" stroke-width="0.35" fill="#000">M</text>
<text x="1123.39" y="114" font-family="&quot;Liberation Serif&quot;, serif" font-size="15.7" font-weight="bold" textLength="7.72" lengthAdjust="spacingAndGlyphs" stroke="#000" stroke-width="0.35" fill="#000">X</text>
<text x="1136.16" y="114" font-family="&quot;Liberation Serif&quot;, serif" font-size="15.7" font-weight="bold" textLength="24.22" lengthAdjust="spacingAndGlyphs" stroke="#000" stroke-width="0.35" fill="#000">3.40</text>
<text x="1165.43" y="114" font-family="&quot;Liberation Serif&quot;, serif" font-size="15.7" font-weight="bold" textLength="10.09" lengthAdjust="spacingAndGlyphs" stroke="#000" stroke-width="0.35" fill="#000">M</text>
<text x="1180.57" y="114" font-family="&quot;Liberation Serif&quot;, serif" font-size="15.7" font-weight="bold" textLength="3.93" lengthAdjust="spacingAndGlyphs" stroke="#000" stroke-width="0.35" fill="#000">)</text>
<text x="1314" y="133.75" font-family="&quot;Liberation Serif&quot;, serif" font-size="21.4" font-weight="bold" textLength="69" lengthAdjust="spacingAndGlyphs" stroke="#000" stroke-width="0.35" fill="#000">BALCONY</text>
<text x="1067.4" y="299.2" font-family="&quot;Liberation Serif&quot;, serif" font-size="19.5" font-weight="bold" textLength="49.7" lengthAdjust="spacingAndGlyphs" stroke="#000" stroke-width="0.35" fill="#000">LIVING</text>
<text x="1138.6" y="299.2" font-family="&quot;Liberation Serif&quot;, serif" font-size="19.5" font-weight="bold" textLength="42.3" lengthAdjust="spacingAndGlyphs" stroke="#000" stroke-width="0.35" fill="#000">ROOM</text>
<text x="1075.6" y="313.5" font-family="&quot;Liberation Serif&quot;, serif" font-size="14.0" font-weight="bold" textLength="39.13" lengthAdjust="spacingAndGlyphs" stroke="#000" stroke-width="0.35" fill="#000">26'-10&quot;</text>
<text x="1123.64" y="313.5" font-family="&quot;Liberation Serif&quot;, serif" font-size="14.0" font-weight="bold" textLength="6.9" lengthAdjust="spacingAndGlyphs" stroke="#000" stroke-width="0.35" fill="#000">X</text>
<text x="1139.45" y="313.5" font-family="&quot;Liberation Serif&quot;, serif" font-size="14.0" font-weight="bold" textLength="32.95" lengthAdjust="spacingAndGlyphs" stroke="#000" stroke-width="0.35" fill="#000">15'-0&quot;</text>
<text x="1066.9" y="326.9" font-family="&quot;Liberation Serif&quot;, serif" font-size="15.0" font-weight="bold" textLength="3.74" lengthAdjust="spacingAndGlyphs" stroke="#000" stroke-width="0.35" fill="#000">(</text>
<text x="1076.42" y="326.9" font-family="&quot;Liberation Serif&quot;, serif" font-size="15.0" font-weight="bold" textLength="23.04" lengthAdjust="spacingAndGlyphs" stroke="#000" stroke-width="0.35" fill="#000">8.18</text>
<text x="1105.24" y="326.9" font-family="&quot;Liberation Serif&quot;, serif" font-size="15.0" font-weight="bold" textLength="9.6" lengthAdjust="spacingAndGlyphs" stroke="#000" stroke-width="0.35" fill="#000">M</text>
<text x="1120.63" y="326.9" font-family="&quot;Liberation Serif&quot;, serif" font-size="15.0" font-weight="bold" textLength="7.35" lengthAdjust="spacingAndGlyphs" stroke="#000" stroke-width="0.35" fill="#000">X</text>
<text x="1133.76" y="326.9" font-family="&quot;Liberation Serif&quot;, serif" font-size="15.0" font-weight="bold" textLength="23.04" lengthAdjust="spacingAndGlyphs" stroke="#000" stroke-width="0.35" fill="#000">4.57</text>
<text x="1162.58" y="326.9" font-family="&quot;Liberation Serif&quot;, serif" font-size="15.0" font-weight="bold" textLength="9.6" lengthAdjust="spacingAndGlyphs" stroke="#000" stroke-width="0.35" fill="#000">M</text>
<text x="1177.96" y="326.9" font-family="&quot;Liberation Serif&quot;, serif" font-size="15.0" font-weight="bold" textLength="3.74" lengthAdjust="spacingAndGlyphs" stroke="#000" stroke-width="0.35" fill="#000">)</text>
<text x="820.9" y="469.7" font-family="&quot;Liberation Serif&quot;, serif" font-size="19.8" font-weight="bold" textLength="48.8" lengthAdjust="spacingAndGlyphs" stroke="#000" stroke-width="0.35" fill="#000">FOYER</text>
<text x="808" y="483.7" font-family="&quot;Liberation Serif&quot;, serif" font-size="15.7" font-weight="bold" textLength="29.97" lengthAdjust="spacingAndGlyphs" stroke="#000" stroke-width="0.35" fill="#000">9'-2&quot;</text>
<text x="842.69" y="483.7" font-family="&quot;Liberation Serif&quot;, serif" font-size="15.7" font-weight="bold" textLength="7.72" lengthAdjust="spacingAndGlyphs" stroke="#000" stroke-width="0.35" fill="#000">X</text>
<text x="855.13" y="483.7" font-family="&quot;Liberation Serif&quot;, serif" font-size="15.7" font-weight="bold" textLength="29.97" lengthAdjust="spacingAndGlyphs" stroke="#000" stroke-width="0.35" fill="#000">7'-5&quot;</text>
<text x="789.7" y="497" font-family="&quot;Liberation Serif&quot;, serif" font-size="15.3" font-weight="bold" textLength="3.81" lengthAdjust="spacingAndGlyphs" stroke="#000" stroke-width="0.35" fill="#000">(</text>
<text x="798.84" y="497" font-family="&quot;Liberation Serif&quot;, serif" font-size="15.3" font-weight="bold" textLength="23.51" lengthAdjust="spacingAndGlyphs" stroke="#000" stroke-width="0.35" fill="#000">2.79</text>
<text x="827.68" y="497" font-family="&quot;Liberation Serif&quot;, serif" font-size="15.3" font-weight="bold" textLength="9.8" lengthAdjust="spacingAndGlyphs" stroke="#000" stroke-width="0.35" fill="#000">M</text>
<text x="842.8" y="497" font-family="&quot;Liberation Serif&quot;, serif" font-size="15.3" font-weight="bold" textLength="7.5" lengthAdjust="spacingAndGlyphs" stroke="#000" stroke-width="0.35" fill="#000">X</text>
<text x="855.62" y="497" font-family="&quot;Liberation Serif&quot;, serif" font-size="15.3" font-weight="bold" textLength="23.51" lengthAdjust="spacingAndGlyphs" stroke="#000" stroke-width="0.35" fill="#000">2.26</text>
<text x="884.46" y="497" font-family="&quot;Liberation Serif&quot;, serif" font-size="15.3" font-weight="bold" textLength="9.8" lengthAdjust="spacingAndGlyphs" stroke="#000" stroke-width="0.35" fill="#000">M</text>
<text x="899.59" y="497" font-family="&quot;Liberation Serif&quot;, serif" font-size="15.3" font-weight="bold" textLength="3.81" lengthAdjust="spacingAndGlyphs" stroke="#000" stroke-width="0.35" fill="#000">)</text>
<text x="1234.25" y="483.75" font-family="&quot;Liberation Serif&quot;, serif" font-size="21.0" font-weight="bold" textLength="82.5" lengthAdjust="spacingAndGlyphs" stroke="#000" stroke-width="0.35" fill="#000">FIREPLACE</text>
<text x="892.7" y="594.3" font-family="&quot;Liberation Serif&quot;, serif" font-size="40.8" font-weight="normal" textLength="24.3" lengthAdjust="spacingAndGlyphs" stroke="none" fill="#000">B</text>
<text x="483.5" y="566.3" font-family="&quot;Liberation Sans&quot;, sans-serif" font-size="17.9" font-weight="normal" textLength="36.4" lengthAdjust="spacingAndGlyphs" stroke="none" fill="#000">W/D</text>
<text x="578.2" y="543.6" font-family="&quot;Liberation Sans&quot;, sans-serif" font-size="19.0" font-weight="normal" textLength="38.1" lengthAdjust="spacingAndGlyphs" stroke="none" fill="#000">BAR</text>
<text x="1057.7" y="730" font-family="&quot;Liberation Sans&quot;, sans-serif" font-size="24.7" font-weight="normal" textLength="89.2" lengthAdjust="spacingAndGlyphs" stroke="none" fill="#000">NORTH</text></svg>
</body></html>
